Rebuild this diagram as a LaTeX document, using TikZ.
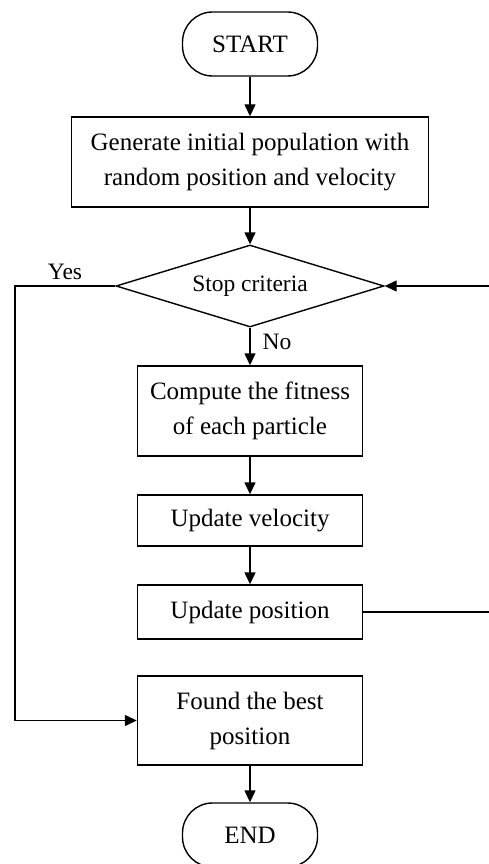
\documentclass[tikz,border=0pt]{standalone}
\usepackage{fontspec}
\setmainfont{Liberation Serif}
\usetikzlibrary{shapes.geometric,arrows.meta}

\tikzset{
  box/.style={draw, line width=1.4pt, rectangle, align=center, inner sep=0pt,
              font=\fontsize{25}{35}\selectfont},
  term/.style={draw, line width=1.4pt, rectangle, rounded corners=30pt,
               minimum width=135pt, minimum height=64pt, inner sep=0pt,
               font=\fontsize{25}{35}\selectfont},
  decide/.style={draw, line width=1.4pt, diamond, aspect=3.27, inner sep=0pt,
                 minimum width=268pt, minimum height=82pt,
                 font=\fontsize{23.5}{30}\selectfont},
  lbl/.style={font=\fontsize{23.5}{28}\selectfont, inner sep=0pt},
  flow/.style={line width=1.4pt, -{Triangle[length=12pt,width=11pt]}},
  wire/.style={line width=1.4pt}
}

\begin{document}
\begin{tikzpicture}[x=1pt, y=-1pt]
  \useasboundingbox (0,0) rectangle (489,864);

  % main column of steps
  \node[term] (start) at (250,44) {START};
  \node[box, minimum width=357pt, minimum height=90pt] (init) at (250,162)
       {Generate initial population with\\random position and velocity};
  \node[decide] (stop) at (250,286) {Stop criteria};
  \node[box, minimum width=225pt, minimum height=90pt] (fit) at (250,411)
       {Compute the fitness\\of each particle};
  \node[box, minimum width=225pt, minimum height=51pt] (vel) at (250,520.5)
       {Update velocity};
  \node[box, minimum width=225pt, minimum height=54pt] (pos) at (250,612)
       {Update position};
  \node[box, minimum width=225pt, minimum height=89pt] (best) at (250,720.5)
       {Found the best\\position};
  \node[term] (end) at (250,835) {END};

  % branch labels
  \node[lbl] (yes) at (65,272) {Yes};
  \node[lbl] (no) at (277,342) {No};

  % loop-back and exit route points
  \coordinate (loopin) at (489,286);
  \coordinate (loopout) at (489,612);
  \coordinate (yescorner) at (15,286);

  \draw[flow] (start) -- (init);
  \draw[flow] (init) -- (stop);
  \draw[flow] (stop) -- (fit);
  \draw[flow] (fit) -- (vel);
  \draw[flow] (vel) -- (pos);
  \draw[flow] (best) -- (end);
  \draw[flow] (stop.west) -- (yescorner) |- (best.west);
  \draw[flow] (loopin) -- (stop.east);
  \draw[wire] (pos.east) -- (loopout);
\end{tikzpicture}
\end{document}
